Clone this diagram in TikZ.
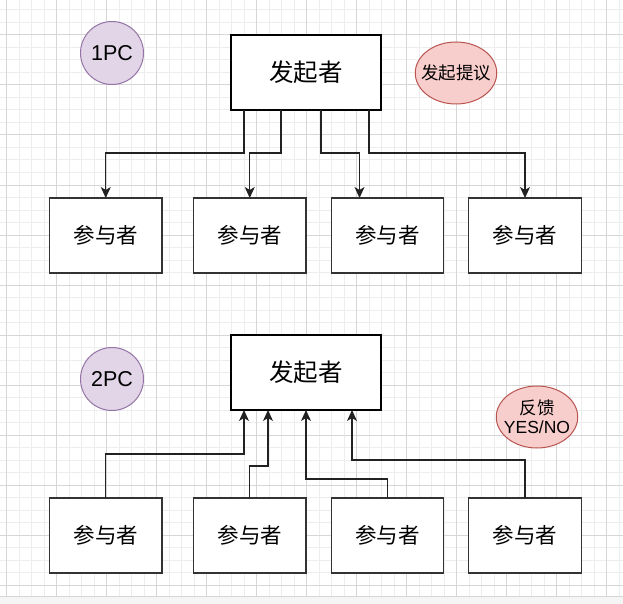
\documentclass[tikz,border=0pt]{standalone}
\usepackage{fontspec}
\setmainfont{Liberation Sans}
\newfontfamily\cjk{Noto Sans CJK SC}
\usepackage{tikz}
\usetikzlibrary{arrows.meta,positioning,shapes.geometric,calc}
\definecolor{gridminor}{HTML}{EDEDED}
\definecolor{gridmajor}{HTML}{D6D6D6}
\definecolor{purplefill}{HTML}{E1D5E7}
\definecolor{purpleline}{HTML}{9673A6}
\definecolor{redfill}{HTML}{F8CECC}
\definecolor{redline}{HTML}{B85450}
\definecolor{edge}{HTML}{222222}
\tikzset{
  gminor/.style={draw=gridminor,line width=1pt},
  gmajor/.style={draw=gridmajor,line width=1pt},
  initbox/.style={draw=black,fill=white,line width=1.3pt,minimum width=150pt,minimum height=75pt,outer sep=0pt,font=\cjk\fontsize{24.5}{28}\selectfont},
  partbox/.style={draw=black!80,fill=white,line width=1.3pt,minimum width=112.5pt,minimum height=75pt,outer sep=0pt,font=\cjk\fontsize{21.5}{25}\selectfont},
  phasetag/.style={circle,draw=purpleline,fill=purplefill,line width=1pt,minimum size=63pt,inner sep=0pt,font=\fontsize{21.5}{24}\selectfont},
  notetag/.style={ellipse,draw=redline,fill=redfill,line width=1pt,minimum width=81.5pt,minimum height=62pt,inner xsep=-7pt,inner ysep=0pt,align=center,font=\fontsize{17.5}{19}\selectfont},
  varr/.style={-{Stealth[length=11pt,width=10pt,inset=3pt]},line width=1.2pt,draw=edge}
}
\begin{document}
\begin{tikzpicture}[x=1pt,y=-1pt]
  \useasboundingbox (0,0) rectangle (623,604);
  \foreach \k in {0,...,49} \draw[gminor] (6.7+12.5*\k,0) -- (6.7+12.5*\k,596);
  \foreach \k in {0,...,46} \draw[gminor] (0,10+12.5*\k) -- (623,10+12.5*\k);
  \foreach \k in {0,...,12} \draw[gmajor] (6.7+50*\k,0) -- (6.7+50*\k,596);
  \foreach \k in {0,...,11} \draw[gmajor] (0,35+50*\k) -- (623,35+50*\k);
  \fill[gray!8] (0,596) rectangle (623,604);
  \draw[gmajor] (0,596) -- (623,596);

  \node[phasetag] (pc1) at (112,53) {1PC};
  \node[initbox] (i1) at (306,72.5) {发起者};
  \node[notetag] (n1) at (456,73) {\cjk 发起提议};
  \node[partbox] (a1) at (105.75,235.5) {参与者};
  \node[partbox] (a2) at (249.75,235.5) {参与者};
  \node[partbox] (a3) at (387.5,235.5) {参与者};
  \node[partbox] (a4) at (525,235.5) {参与者};
  \draw[varr] ([xshift=-62pt]i1.south) -- ++(0,43) -| (a1.north);
  \draw[varr] ([xshift=-25pt]i1.south) -- ++(0,43) -| (a2.north);
  \draw[varr] ([xshift=15pt]i1.south) -- ++(0,43) -| ([xshift=-28pt]a3.north);
  \draw[varr] ([xshift=63pt]i1.south) -- ++(0,43) -| (a4.north);

  \node[phasetag] (pc2) at (112,379) {2PC};
  \node[initbox] (i2) at (306,372.5) {发起者};
  \node[notetag] (n2) at (537,417) {{\cjk 反馈}\\YES/NO};
  \node[partbox] (b1) at (105.75,535.5) {参与者};
  \node[partbox] (b2) at (249.75,535.5) {参与者};
  \node[partbox] (b3) at (387.5,535.5) {参与者};
  \node[partbox] (b4) at (525,535.5) {参与者};
  \draw[varr] (b1.north) -- ++(0,-44) -| ([xshift=-62pt]i2.south);
  \draw[varr] (b2.north) -- ++(0,-32) -| ([xshift=-38pt]i2.south);
  \draw[varr] (b3.north) -- ++(0,-19) -| (i2.south);
  \draw[varr] (b4.north) -- ++(0,-38) -| ([xshift=46pt]i2.south);
\end{tikzpicture}
\end{document}
